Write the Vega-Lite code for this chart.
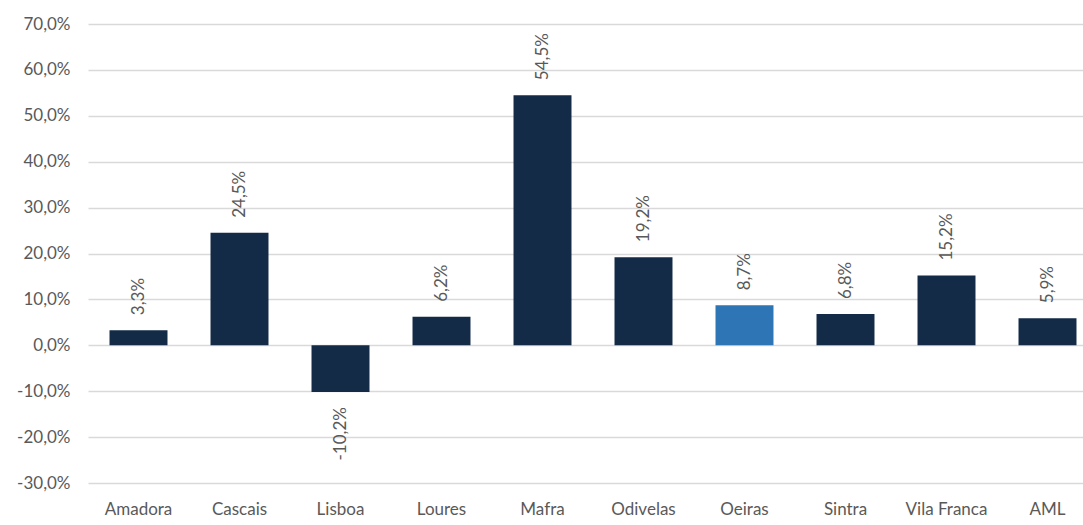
{
  "$schema": "https://vega.github.io/schema/vega-lite/v6.json",
  "width": 1010,
  "height": 459,
  "autosize": {"type": "none"},
  "padding": {"left": 88, "top": 24, "right": 0, "bottom": 42},
  "background": "white",
  "config": {
    "locale": {"number": {"decimal": ",", "thousands": ".", "grouping": [3], "currency": ["", " €"], "minus": "-"}},
    "view": {"stroke": null},
    "font": "Lato",
    "axis": {"labelFont": "Lato", "labelFontSize": 17, "labelColor": "#595959", "domain": false, "ticks": false}
  },
  "data": {
    "values": [
      {"municipio": "Amadora", "valor": 0.033, "destaque": "n"},
      {"municipio": "Cascais", "valor": 0.245, "destaque": "n"},
      {"municipio": "Lisboa", "valor": -0.102, "destaque": "n"},
      {"municipio": "Loures", "valor": 0.062, "destaque": "n"},
      {"municipio": "Mafra", "valor": 0.545, "destaque": "n"},
      {"municipio": "Odivelas", "valor": 0.192, "destaque": "n"},
      {"municipio": "Oeiras", "valor": 0.087, "destaque": "s"},
      {"municipio": "Sintra", "valor": 0.068, "destaque": "n"},
      {"municipio": "Vila Franca", "valor": 0.152, "destaque": "n"},
      {"municipio": "AML", "valor": 0.059, "destaque": "n"}
    ]
  },
  "encoding": {
    "x": {
      "field": "municipio", "type": "nominal", "sort": null, "title": null,
      "scale": {"paddingInner": 0.426, "paddingOuter": 0.213},
      "axis": {"labelAngle": 0, "labelPadding": 18, "grid": false}
    },
    "y": {
      "field": "valor", "type": "quantitative", "title": null,
      "scale": {"domain": [-0.3, 0.7], "nice": false},
      "axis": {"format": ".1%", "values": [-0.3, -0.2, -0.1, 0, 0.1, 0.2, 0.3, 0.4, 0.5, 0.6, 0.7], "labelPadding": 18, "grid": true, "gridColor": "#d9d9d9", "gridWidth": 1.5}
    }
  },
  "layer": [
    {
      "mark": {"type": "bar"},
      "encoding": {
        "color": {
          "field": "destaque", "type": "nominal", "legend": null,
          "scale": {"domain": ["n", "s"], "range": ["#132B47", "#2E75B6"]}
        }
      }
    },
    {
      "transform": [{"filter": "datum.valor >= 0"}],
      "mark": {"type": "text", "angle": 270, "align": "left", "baseline": "middle", "dx": 15, "fontSize": 17, "color": "#595959"},
      "encoding": {"text": {"field": "valor", "type": "quantitative", "format": ".1%"}}
    },
    {
      "transform": [{"filter": "datum.valor < 0"}],
      "mark": {"type": "text", "angle": 270, "align": "right", "baseline": "middle", "dx": -15, "fontSize": 17, "color": "#595959"},
      "encoding": {"text": {"field": "valor", "type": "quantitative", "format": ".1%"}}
    }
  ]
}
